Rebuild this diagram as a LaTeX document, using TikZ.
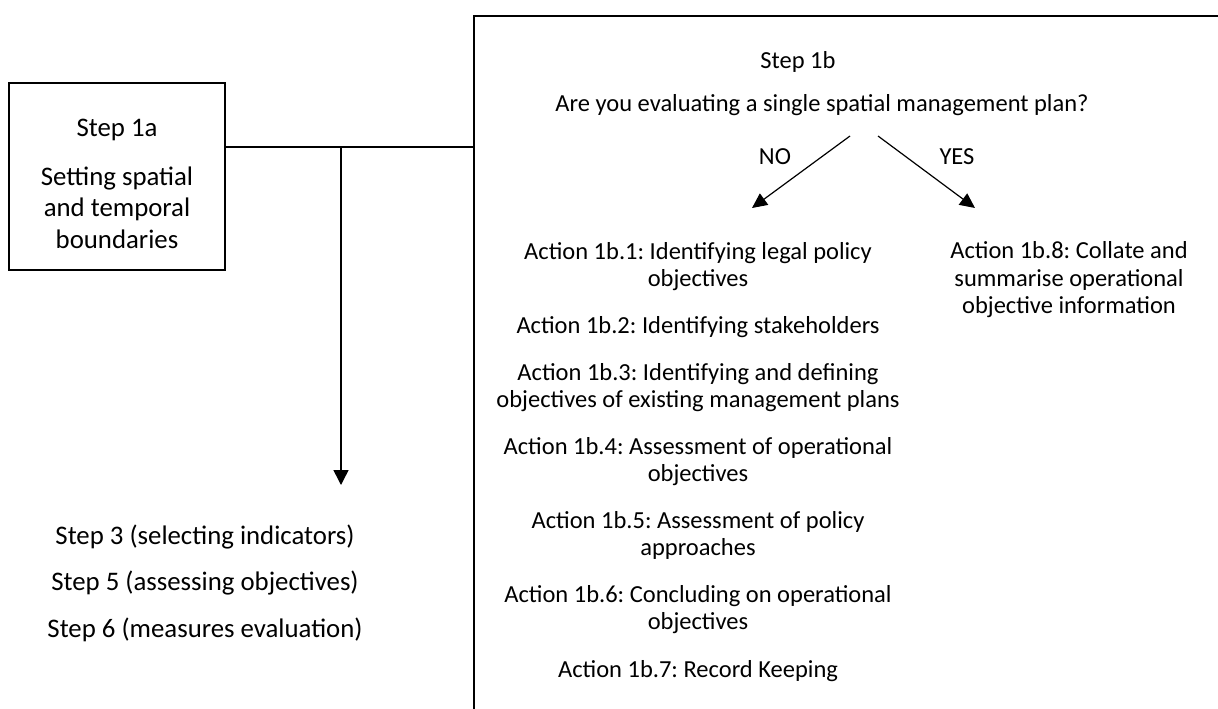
\documentclass[tikz,border=0pt]{standalone}
\usepackage{fontspec}
\setmainfont{Carlito}
\usetikzlibrary{arrows.meta}
\frenchspacing

\tikzset{
  stepbox/.style={draw, line width=1.6pt, inner sep=0pt},
  plain/.style={inner sep=0pt, align=center, font=\fontsize{24.5}{27.5}\selectfont},
  bigtext/.style={inner sep=0pt, align=center, font=\fontsize{26.8}{31.5}\selectfont},
  droparrow/.style={-{Triangle[length=15pt,width=15pt]}, line width=1.5pt},
  choicearrow/.style={-{Triangle[length=15pt,width=14pt]}, line width=1.2pt},
}

\begin{document}
\begin{tikzpicture}[x=1pt, y=-1pt]
  \clip (0,0) rectangle (1218,709);
  \node[stepbox, minimum width=216, minimum height=187] (step1a) at (117,176.5) {};
  \node[bigtext] (step1atext) at (117,184) {Step 1a\\[17pt]Setting spatial\\and temporal\\boundaries};
  \node[stepbox, anchor=north west, minimum width=800, minimum height=730] (step1b) at (473,15) {};
  \coordinate (tee) at (341,147);
  \coordinate (drop) at (341,485);
  \draw[line width=1.6pt] (step1a.east |- tee) -- (step1b.west |- tee);
  \draw[droparrow] (tee) -- (drop);
  \node[bigtext] (s3) at (205,537) {Step 3 (selecting indicators)};
  \node[bigtext] (s5) at (205,583) {Step 5 (assessing objectives)};
  \node[bigtext] (s6) at (205,630) {Step 6 (measures evaluation)};
  \node[plain] (step1btitle) at (798,62) {Step 1b};
  \node[plain] (question) at (822,105) {Are you evaluating a single spatial management plan?};
  \coordinate (noStart) at (850,136);
  \coordinate (noEnd) at (752,208);
  \coordinate (yesStart) at (878,136);
  \coordinate (yesEnd) at (975,208);
  \draw[choicearrow] (noStart) -- (noEnd);
  \draw[choicearrow] (yesStart) -- (yesEnd);
  \node[plain] (no) at (775,157) {NO};
  \node[plain] (yes) at (957,157) {YES};
  \node[plain] (a1) at (698,266.5) {Action 1b.1: Identifying legal policy\\objectives};
  \node[plain] (a2) at (698,327) {Action 1b.2: Identifying stakeholders};
  \node[plain] (a3) at (698,387.5) {Action 1b.3: Identifying and defining\\objectives of existing management plans};
  \node[plain] (a4) at (698,461.5) {Action 1b.4: Assessment of operational\\objectives};
  \node[plain] (a5) at (698,535.5) {Action 1b.5: Assessment of policy\\approaches};
  \node[plain] (a6) at (698,609.5) {Action 1b.6: Concluding on operational\\objectives};
  \node[plain] (a7) at (698,671) {Action 1b.7: Record Keeping};
  \node[plain] (a8) at (1069,280) {Action 1b.8: Collate and\\summarise operational\\objective information};
\end{tikzpicture}
\end{document}
